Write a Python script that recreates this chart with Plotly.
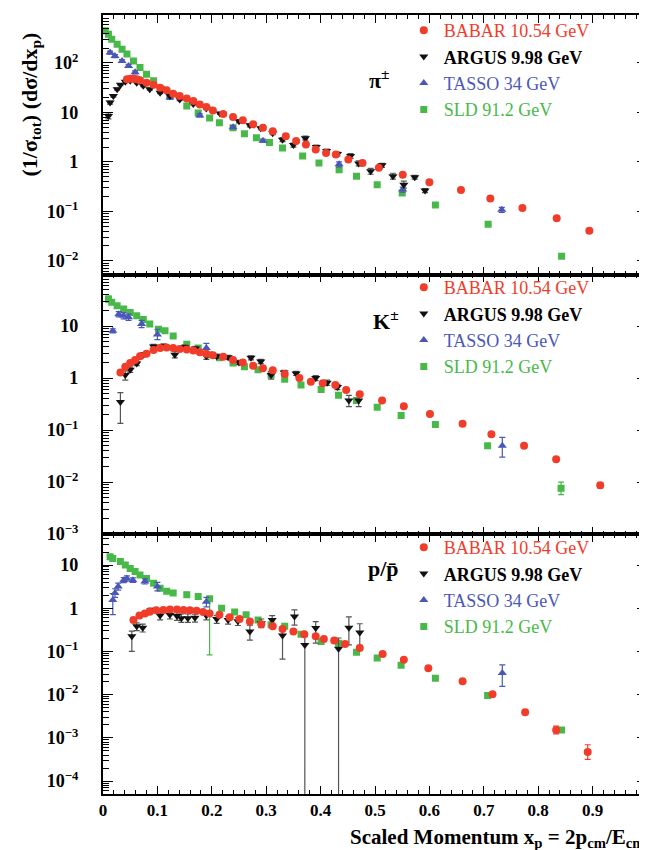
import numpy as np
import plotly.graph_objects as go
from plotly.subplots import make_subplots

# ---------------- data (x_p, log10 of (1/sigma) dsigma/dx_p) ----------------
# pi+-
pi_babar_x = [0.044,0.050,0.056,0.062,0.068,0.080,0.093,0.105,0.117,0.129,0.141,0.154,0.166,0.178,0.190,0.202,0.221,0.239,0.257,0.276,0.294,0.312,0.336,0.355,0.373,0.391,0.410,0.428,0.451,0.477,0.507,0.551,0.600,0.658,0.712,0.771,0.834,0.894]
pi_babar_log = [1.67,1.68,1.68,1.67,1.65,1.60,1.56,1.50,1.45,1.38,1.33,1.28,1.23,1.16,1.11,1.04,0.97,0.91,0.84,0.76,0.69,0.62,0.52,0.42,0.35,0.25,0.18,0.15,0.05,-0.02,-0.12,-0.26,-0.41,-0.57,-0.74,-0.93,-1.14,-1.39]
pi_argus_x = [0.010,0.013,0.019,0.026,0.032,0.041,0.050,0.062,0.074,0.086,0.105,0.123,0.141,0.166,0.190,0.215,0.250,0.270,0.290,0.312,0.330,0.350,0.372,0.392,0.411,0.431,0.455,0.470,0.492,0.513,0.533,0.553,0.573,0.592]
pi_argus_log = [0.93,1.20,1.33,1.47,1.56,1.62,1.64,1.60,1.54,1.47,1.40,1.33,1.26,1.17,1.08,0.98,0.82,0.74,0.68,0.58,0.45,0.34,0.48,0.30,0.22,0.16,0.12,-0.03,-0.19,-0.07,-0.29,-0.46,-0.31,-0.58]
pi_argus_err = [0.06,0.03,0.02,0.02,0.02,0.02,0.02,0.02,0.02,0.02,0.02,0.02,0.02,0.02,0.02,0.02,0.03,0.03,0.03,0.03,0.04,0.04,0.04,0.04,0.04,0.04,0.05,0.05,0.06,0.04,0.06,0.07,0.04,0.04]
pi_tasso_x = [0.013,0.022,0.035,0.047,0.059,0.123,0.178,0.239,0.294,0.434,0.551,0.733]
pi_tasso_log = [2.21,2.14,2.04,1.94,1.81,1.30,0.94,0.70,0.43,-0.05,-0.56,-0.97]
pi_tasso_err = [0.03,0.03,0.03,0.03,0.03,0.03,0.03,0.03,0.03,0.05,0.05,0.05]
pi_sld_x = [0.004,0.010,0.016,0.026,0.035,0.044,0.056,0.068,0.080,0.093,0.108,0.123,0.154,0.175,0.196,0.214,0.239,0.260,0.282,0.306,0.330,0.367,0.397,0.434,0.466,0.504,0.550,0.611,0.708,0.843]
pi_sld_log = [2.65,2.58,2.48,2.38,2.28,2.18,2.04,1.91,1.77,1.64,1.47,1.33,1.13,0.99,0.89,0.79,0.69,0.57,0.49,0.39,0.28,0.12,-0.02,-0.16,-0.29,-0.46,-0.63,-0.87,-1.26,-1.91]

# K+-
k_babar_x = [0.032,0.041,0.050,0.059,0.068,0.080,0.093,0.105,0.117,0.129,0.141,0.154,0.166,0.178,0.190,0.202,0.221,0.239,0.257,0.276,0.294,0.312,0.334,0.361,0.382,0.404,0.427,0.447,0.472,0.513,0.553,0.601,0.661,0.714,0.774,0.833,0.914]
k_babar_log = [0.11,0.22,0.29,0.35,0.42,0.47,0.54,0.58,0.59,0.58,0.56,0.55,0.53,0.50,0.47,0.44,0.41,0.35,0.30,0.24,0.19,0.15,0.08,0.00,-0.07,-0.10,-0.13,-0.23,-0.31,-0.43,-0.54,-0.69,-0.88,-1.08,-1.30,-1.56,-2.06]
k_babar_err = [0]*36 + [0.05]
k_argus_x = [0.032,0.041,0.050,0.062,0.074,0.093,0.111,0.132,0.150,0.170,0.190,0.209,0.230,0.250,0.272,0.290,0.309,0.333,0.355,0.391,0.412,0.431,0.452,0.470]
k_argus_log = [-0.46,0.06,0.16,0.28,0.45,0.61,0.62,0.45,0.60,0.57,0.42,0.42,0.40,0.30,0.39,0.32,0.06,0.11,0.09,0.00,-0.09,-0.17,-0.43,-0.43]
k_argus_up = [0.18,0.08,0.05,0.04,0.04,0.04,0.04,0.06,0.04,0.04,0.06,0.04,0.04,0.04,0.04,0.04,0.07,0.04,0.04,0.05,0.05,0.05,0.10,0.10]
k_argus_dn = [0.41,0.10,0.05,0.04,0.04,0.04,0.04,0.06,0.04,0.04,0.06,0.04,0.04,0.04,0.04,0.04,0.08,0.04,0.04,0.05,0.05,0.05,0.12,0.12]
k_tasso_x = [0.018,0.029,0.038,0.047,0.071,0.100,0.190,0.734]
k_tasso_log = [0.91,1.23,1.20,1.17,1.04,0.84,0.58,-1.30]
k_tasso_up = [0.04,0.05,0.06,0.06,0.07,0.10,0.09,0.16]
k_tasso_dn = [0.04,0.05,0.06,0.06,0.07,0.10,0.11,0.22]
k_sld_x = [0.010,0.016,0.026,0.038,0.050,0.062,0.074,0.086,0.102,0.114,0.129,0.154,0.175,0.196,0.214,0.239,0.260,0.285,0.309,0.334,0.364,0.401,0.433,0.466,0.504,0.548,0.611,0.707,0.842]
k_sld_log = [1.52,1.46,1.39,1.33,1.26,1.20,1.13,1.04,0.94,0.91,0.81,0.65,0.58,0.45,0.39,0.29,0.22,0.16,0.06,-0.02,-0.13,-0.22,-0.33,-0.43,-0.56,-0.72,-0.89,-1.30,-2.12]
k_sld_err = [0.06] + [0]*27 + [0.12]

# p / pbar
p_babar_x = [0.056,0.067,0.077,0.086,0.098,0.111,0.123,0.136,0.148,0.160,0.172,0.184,0.196,0.214,0.233,0.251,0.270,0.291,0.312,0.330,0.350,0.370,0.391,0.406,0.425,0.445,0.472,0.514,0.553,0.598,0.661,0.716,0.776,0.833,0.891]
p_babar_log = [-0.27,-0.17,-0.12,-0.08,-0.05,-0.04,-0.03,-0.03,-0.04,-0.05,-0.06,-0.09,-0.12,-0.15,-0.21,-0.25,-0.31,-0.37,-0.42,-0.48,-0.54,-0.60,-0.65,-0.71,-0.75,-0.83,-0.92,-1.06,-1.19,-1.39,-1.69,-1.99,-2.41,-2.82,-3.33]
p_babar_err = [0]*32 + [0.05,0.09,0.17]
p_argus_x = [0.053,0.062,0.073,0.088,0.105,0.123,0.136,0.144,0.156,0.169,0.190,0.209,0.230,0.248,0.270,0.291,0.311,0.330,0.352,0.371,0.391,0.433,0.452,0.472]
p_argus_log = [-0.65,-0.42,-0.45,-0.05,-0.17,-0.15,-0.18,-0.23,-0.23,-0.22,-0.17,-0.25,-0.27,-0.30,-0.54,-0.35,-0.27,-0.63,-0.19,-0.85,-0.46,-0.94,-0.45,-0.56]
p_argus_up = [0.12,0.08,0.08,0.05,0.10,0.08,0.08,0.10,0.10,0.08,0.10,0.08,0.08,0.08,0.15,0.10,0.10,0.12,0.15,0.20,0.15,0.25,0.25,0.20]
p_argus_dn = [0.35,0.10,0.10,0.05,0.10,0.10,0.10,0.10,0.10,0.10,0.10,0.10,0.10,0.10,0.20,0.10,0.10,0.55,0.20,5.0,0.35,5.0,0.40,0.30]
p_tasso_x = [0.018,0.022,0.028,0.038,0.044,0.055,0.077,0.100,0.190,0.734]
p_tasso_log = [0.19,0.35,0.50,0.65,0.69,0.65,0.62,0.50,0.15,-1.50]
p_tasso_up = [0.15,0.10,0.08,0.06,0.06,0.05,0.06,0.10,0.10,0.19]
p_tasso_dn = [0.34,0.10,0.08,0.06,0.06,0.05,0.06,0.10,0.12,0.31]
p_sld_x = [0.013,0.018,0.032,0.041,0.050,0.059,0.068,0.080,0.093,0.105,0.117,0.129,0.154,0.175,0.196,0.218,0.242,0.263,0.285,0.309,0.334,0.364,0.401,0.433,0.466,0.504,0.548,0.611,0.707,0.843]
p_sld_log = [1.19,1.15,1.08,1.00,0.92,0.85,0.77,0.69,0.58,0.46,0.39,0.35,0.31,0.27,0.22,0.00,-0.09,-0.15,-0.27,-0.38,-0.42,-0.60,-0.77,-0.81,-1.02,-1.15,-1.32,-1.62,-2.02,-2.82]
p_sld_up = [0.05]*2 + [0]*10 + [0.06,0.06,0.05] + [0]*15
p_sld_dn = [0.05]*2 + [0]*10 + [0.06,0.06,1.30] + [0]*15

panel_labels = ["π<sup>±</sup>", "K<sup>±</sup>", "p/p̄"]
exp_names = ["BABAR 10.54 GeV", "ARGUS 9.98 GeV", "TASSO 34 GeV", "SLD 91.2 GeV"]
y_ranges = [[-2.28, 2.97], [-3.005, 1.99], [-4.30, 1.71]]
x_ticks = [0, 0.1, 0.2, 0.3, 0.4, 0.5, 0.6, 0.7, 0.8, 0.9, 1]

# ---------------- styles ----------------
RED = "#f23c2a"
BLACK = "#111111"
BLUE = "#4b57b8"
GREEN = "#48b948"
SERIF = "Liberation Serif"

def errs(logs, up, dn):
    y = 10 ** np.array(logs, dtype=float)
    up = np.array(up if up is not None else [0] * len(logs), dtype=float)
    dn = np.array(dn if dn is not None else up, dtype=float)
    return y, y * (10 ** up - 1), y * (1 - 10 ** (-dn))

fig = make_subplots(rows=3, cols=1, shared_xaxes=True, vertical_spacing=0)

panels = [
    dict(babar=(pi_babar_x, pi_babar_log, None, None),
         argus=(pi_argus_x, pi_argus_log, pi_argus_err, pi_argus_err),
         tasso=(pi_tasso_x, pi_tasso_log, pi_tasso_err, pi_tasso_err),
         sld=(pi_sld_x, pi_sld_log, None, None)),
    dict(babar=(k_babar_x, k_babar_log, k_babar_err, k_babar_err),
         argus=(k_argus_x, k_argus_log, k_argus_up, k_argus_dn),
         tasso=(k_tasso_x, k_tasso_log, k_tasso_up, k_tasso_dn),
         sld=(k_sld_x, k_sld_log, k_sld_err, k_sld_err)),
    dict(babar=(p_babar_x, p_babar_log, p_babar_err, p_babar_err),
         argus=(p_argus_x, p_argus_log, p_argus_up, p_argus_dn),
         tasso=(p_tasso_x, p_tasso_log, p_tasso_up, p_tasso_dn),
         sld=(p_sld_x, p_sld_log, p_sld_up, p_sld_dn)),
]

styles = {
    "sld":   dict(color=GREEN, symbol="square", size=7, ecol=GREEN, rank=4,
                  label=f"<span style='color:{GREEN}'>{exp_names[3]}</span>"),
    "tasso": dict(color=BLUE, symbol="triangle-up", size=8, ecol=BLUE, rank=3,
                  label=f"<span style='color:{BLUE}'>{exp_names[2]}</span>"),
    "argus": dict(color=BLACK, symbol="triangle-down", size=8, ecol="#555555", rank=2,
                  label=f"<b>{exp_names[1]}</b>"),
    "babar": dict(color=RED, symbol="circle", size=8, ecol=RED, rank=1,
                  label=f"<span style='color:{RED}'>{exp_names[0]}</span>"),
}

legend_ids = ["legend", "legend2", "legend3"]
for i, pan in enumerate(panels):
    for key in ["sld", "tasso", "argus", "babar"]:
        xs, logs, up, dn = pan[key]
        st = styles[key]
        y, ep, em = errs(logs, up, dn)
        fig.add_trace(go.Scatter(
            x=xs, y=y, mode="markers", name=st["label"],
            marker=dict(symbol=st["symbol"], size=st["size"], color=st["color"], line=dict(width=0)),
            error_y=dict(type="data", symmetric=False, array=ep, arrayminus=em,
                         color=st["ecol"], thickness=1.2, width=3),
            legend=legend_ids[i], legendrank=st["rank"],
        ), row=i + 1, col=1)

axis_font = dict(family=SERIF, size=17, color="black", weight="bold")
for i in range(3):
    fig.update_yaxes(type="log", range=y_ranges[i], dtick=1, exponentformat="power",
                     ticks="inside", ticklen=10, tickwidth=1.2, tickcolor="black",
                     minor=dict(ticks="inside", ticklen=6, tickcolor="black", dtick="D1", showgrid=False),
                     showline=True, linecolor="black", linewidth=1.5, mirror="ticks",
                     showgrid=False, zeroline=False, ticklabelstandoff=20,
                     tickfont=dict(family=SERIF, size=14.5, color="black", weight="bold"),
                     row=i + 1, col=1)
    fig.update_xaxes(range=[0, 1], tickvals=x_ticks, ticktext=[str(v) for v in x_ticks],
                     ticks="inside", ticklen=8, tickwidth=1.2, tickcolor="black",
                     minor=dict(ticks="inside", ticklen=4, tickcolor="black", dtick=0.02, tick0=0, showgrid=False),
                     showline=True, linecolor="black", linewidth=1.5, mirror="ticks",
                     showgrid=False, zeroline=False, showticklabels=(i == 2),
                     tickfont=axis_font, row=i + 1, col=1)

# geometry helpers: plot area is 95..643 px horizontally, 7..786 px vertically
def px_x(px):
    return (px - 95) / 548.0

def px_y(py):
    return 1 - (py - 7) / 779.0

legend_common = dict(font=dict(family=SERIF, size=18, color="black"), bgcolor="rgba(0,0,0,0)",
                     borderwidth=0, xanchor="left", yanchor="top", traceorder="normal",
                     itemsizing="trace", tracegroupgap=0)
fig.update_layout(
    legend=dict(x=px_x(398), y=px_y(4), **legend_common),
    legend2=dict(x=px_x(398), y=px_y(261), **legend_common),
    legend3=dict(x=px_x(398), y=px_y(521), **legend_common),
)

label_pos = [(374, 55), (380, 312), (378, 575)]
for lab, (lx, ly) in zip(panel_labels, label_pos):
    fig.add_annotation(text=f"<b>{lab}</b>", x=px_x(lx), y=px_y(ly), xref="paper", yref="paper",
                       showarrow=False, font=dict(family=SERIF, size=22, color="black"))

fig.add_annotation(text="<b>Scaled Momentum x<sub>p</sub> = 2p<sub>cm</sub>/E<sub>cm</sub></b>",
                   x=px_x(643), y=px_y(830), xref="paper", yref="paper", xanchor="right", yanchor="middle",
                   showarrow=False, font=dict(family=SERIF, size=21, color="black"))
fig.add_annotation(text="<b>(1/σ<sub>tot</sub>) (dσ/dx<sub>p</sub>)</b>",
                   x=px_x(22), y=px_y(97), xref="paper", yref="paper", xanchor="center", yanchor="middle",
                   textangle=-90, showarrow=False, font=dict(family=SERIF, size=22, color="black"))

fig.update_layout(width=647, height=850, margin=dict(l=95, r=4, t=7, b=64),
                  paper_bgcolor="white", plot_bgcolor="white", showlegend=True)

fig.write_html("out.html")
